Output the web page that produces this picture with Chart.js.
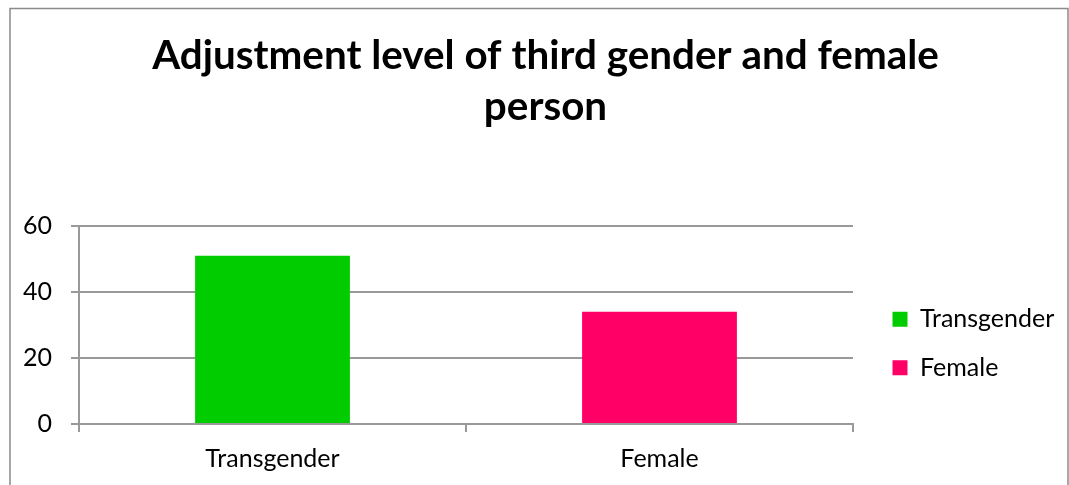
<!DOCTYPE html>
<html>
<head>
<meta charset="utf-8">
<script src="https://cdn.jsdelivr.net/npm/chart.js@4/dist/chart.umd.min.js"></script>
<style>
  html, body { margin: 0; padding: 0; background: #fff; }
  #wrap { width: 1069px; height: 485px; position: relative; }
</style>
</head>
<body>
<div id="wrap"><canvas id="c" width="1069" height="485"></canvas></div>
<script>
const categories = ['Transgender', 'Female'];
const seriesNames = ['Transgender', 'Female'];
const transgenderValues = [51, null];
const femaleValues = [null, 34];
const yTicks = [0, 20, 40, 60];
const titleLines = ['Adjustment level of third gender and female', 'person'];
const seriesColors = ['#00CC00', '#FF0066'];

const FONT = 'Lato';
const GRID = '#999999';

const framePlugin = {
  id: 'frame',
  beforeDraw(chart) {
    const ctx = chart.ctx;
    ctx.save();
    ctx.fillStyle = '#ffffff';
    ctx.fillRect(0, 0, chart.width, chart.height);
    ctx.strokeStyle = '#8a8a8a';
    ctx.lineWidth = 1.5;
    ctx.strokeRect(10, 8.5, 1058, 500);
    ctx.restore();
  }
};

const LEGEND_W = 216;
const LEGEND_DX = 16;
const LEGEND_DY = 101;
const legendPlacePlugin = {
  id: 'legendPlace',
  beforeLayout(chart) {
    const lg = chart.legend;
    if (lg && !lg._patched) {
      const orig = lg.fit;
      lg.fit = function () { orig.call(this); this.width = LEGEND_W; };
      lg._patched = true;
    }
  },
  afterLayout(chart) {
    const lg = chart.legend;
    if (lg) {
      lg.left += LEGEND_DX; lg.right += LEGEND_DX;
      lg.top += LEGEND_DY; lg.bottom += LEGEND_DY;
    }
  }
};

new Chart(document.getElementById('c'), {
  type: 'bar',
  data: {
    labels: categories,
    datasets: [
      { label: seriesNames[0], data: transgenderValues, backgroundColor: seriesColors[0], borderWidth: 0 },
      { label: seriesNames[1], data: femaleValues, backgroundColor: seriesColors[1], borderWidth: 0 }
    ]
  },
  options: {
    responsive: false,
    animation: false,
    devicePixelRatio: 1,
    skipNull: true,
    categoryPercentage: 0.8,
    barPercentage: 0.5,
    layout: { padding: { left: 22, right: 0, top: 0, bottom: 0 } },
    plugins: {
      tooltip: { enabled: false },
      title: {
        display: true,
        text: titleLines,
        color: '#000',
        font: { family: FONT, size: 40.4, weight: 'bold', lineHeight: 1.25 },
        padding: { top: 31, bottom: 94 }
      },
      legend: {
        position: 'right',
        align: 'center',
        labels: {
          color: '#000',
          font: { family: FONT, size: 25 },
          boxWidth: 15,
          boxHeight: 15,
          padding: 23.5
        }
      }
    },
    scales: {
      x: {
        grid: { display: true, drawOnChartArea: false, drawTicks: true, tickLength: 8, color: GRID, lineWidth: 2 },
        border: { display: true, color: GRID, width: 2 },
        ticks: { color: '#000', font: { family: FONT, size: 25 }, padding: 12 },
        afterFit(scale) { scale.height = 61; }
      },
      y: {
        min: 0,
        max: 60,
        afterBuildTicks(scale) { scale.ticks = yTicks.map(v => ({ value: v })); },
        grid: { color: GRID, lineWidth: 2, drawTicks: true, tickLength: 8 },
        border: { display: true, color: GRID, width: 2 },
        ticks: { color: '#000', font: { family: FONT, size: 25 }, padding: 19 },
        afterFit(scale) { scale.width = 57; }
      }
    }
  },
  plugins: [framePlugin, legendPlacePlugin]
});
</script>
</body>
</html>
